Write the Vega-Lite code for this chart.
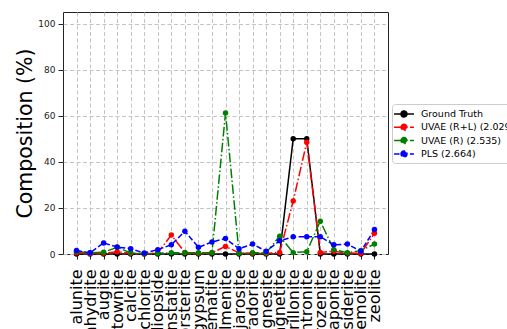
{
  "$schema": "https://vega.github.io/schema/vega-lite/v6.json",
  "width": 325,
  "height": 242,
  "autosize": {"type": "none"},
  "padding": {"left": 63, "top": 12, "right": 119, "bottom": 75},
  "background": "white",
  "config": {
    "font": "DejaVu Sans",
    "view": {"stroke": "#222222", "strokeWidth": 1},
    "axis": {
      "grid": true,
      "gridColor": "#c4c4c4",
      "gridDash": [4, 2.5],
      "gridWidth": 1,
      "domain": false,
      "tickColor": "#222222",
      "tickSize": 5,
      "labelColor": "#222222"
    }
  },
  "data": {
    "values": [
      {"mineral": "alunite", "method": "Ground Truth", "value": 0},
      {"mineral": "anhydrite", "method": "Ground Truth", "value": 0},
      {"mineral": "augite", "method": "Ground Truth", "value": 0},
      {"mineral": "bytownite", "method": "Ground Truth", "value": 0},
      {"mineral": "calcite", "method": "Ground Truth", "value": 0},
      {"mineral": "chlorite", "method": "Ground Truth", "value": 0},
      {"mineral": "diopside", "method": "Ground Truth", "value": 0},
      {"mineral": "enstatite", "method": "Ground Truth", "value": 0},
      {"mineral": "forsterite", "method": "Ground Truth", "value": 0},
      {"mineral": "gypsum", "method": "Ground Truth", "value": 0},
      {"mineral": "hematite", "method": "Ground Truth", "value": 0},
      {"mineral": "ilmenite", "method": "Ground Truth", "value": 0},
      {"mineral": "jarosite", "method": "Ground Truth", "value": 0},
      {"mineral": "labradorite", "method": "Ground Truth", "value": 0},
      {"mineral": "magnesite", "method": "Ground Truth", "value": 0},
      {"mineral": "magnetite", "method": "Ground Truth", "value": 0},
      {"mineral": "montmorillonite", "method": "Ground Truth", "value": 50},
      {"mineral": "nontronite", "method": "Ground Truth", "value": 50},
      {"mineral": "rozenite", "method": "Ground Truth", "value": 0},
      {"mineral": "saponite", "method": "Ground Truth", "value": 0},
      {"mineral": "siderite", "method": "Ground Truth", "value": 0},
      {"mineral": "tremolite", "method": "Ground Truth", "value": 0},
      {"mineral": "zeolite", "method": "Ground Truth", "value": 0},

      {"mineral": "alunite", "method": "UVAE (R+L) (2.029)", "value": 0.5},
      {"mineral": "anhydrite", "method": "UVAE (R+L) (2.029)", "value": 0.2},
      {"mineral": "augite", "method": "UVAE (R+L) (2.029)", "value": 0.3},
      {"mineral": "bytownite", "method": "UVAE (R+L) (2.029)", "value": 1.0},
      {"mineral": "calcite", "method": "UVAE (R+L) (2.029)", "value": 0.3},
      {"mineral": "chlorite", "method": "UVAE (R+L) (2.029)", "value": 0.1},
      {"mineral": "diopside", "method": "UVAE (R+L) (2.029)", "value": 0.5},
      {"mineral": "enstatite", "method": "UVAE (R+L) (2.029)", "value": 8.2},
      {"mineral": "forsterite", "method": "UVAE (R+L) (2.029)", "value": 0.7},
      {"mineral": "gypsum", "method": "UVAE (R+L) (2.029)", "value": 0.3},
      {"mineral": "hematite", "method": "UVAE (R+L) (2.029)", "value": 0.5},
      {"mineral": "ilmenite", "method": "UVAE (R+L) (2.029)", "value": 3.3},
      {"mineral": "jarosite", "method": "UVAE (R+L) (2.029)", "value": 0.5},
      {"mineral": "labradorite", "method": "UVAE (R+L) (2.029)", "value": 0.3},
      {"mineral": "magnesite", "method": "UVAE (R+L) (2.029)", "value": 0.3},
      {"mineral": "magnetite", "method": "UVAE (R+L) (2.029)", "value": 0.7},
      {"mineral": "montmorillonite", "method": "UVAE (R+L) (2.029)", "value": 23},
      {"mineral": "nontronite", "method": "UVAE (R+L) (2.029)", "value": 48.5},
      {"mineral": "rozenite", "method": "UVAE (R+L) (2.029)", "value": 0.7},
      {"mineral": "saponite", "method": "UVAE (R+L) (2.029)", "value": 1.2},
      {"mineral": "siderite", "method": "UVAE (R+L) (2.029)", "value": 0.4},
      {"mineral": "tremolite", "method": "UVAE (R+L) (2.029)", "value": 0.3},
      {"mineral": "zeolite", "method": "UVAE (R+L) (2.029)", "value": 9},

      {"mineral": "alunite", "method": "UVAE (R) (2.535)", "value": 1.1},
      {"mineral": "anhydrite", "method": "UVAE (R) (2.535)", "value": 0.5},
      {"mineral": "augite", "method": "UVAE (R) (2.535)", "value": 0.8},
      {"mineral": "bytownite", "method": "UVAE (R) (2.535)", "value": 2.9},
      {"mineral": "calcite", "method": "UVAE (R) (2.535)", "value": 0.5},
      {"mineral": "chlorite", "method": "UVAE (R) (2.535)", "value": 0.1},
      {"mineral": "diopside", "method": "UVAE (R) (2.535)", "value": 0.3},
      {"mineral": "enstatite", "method": "UVAE (R) (2.535)", "value": 0.5},
      {"mineral": "forsterite", "method": "UVAE (R) (2.535)", "value": 0.5},
      {"mineral": "gypsum", "method": "UVAE (R) (2.535)", "value": 0.5},
      {"mineral": "hematite", "method": "UVAE (R) (2.535)", "value": 0.5},
      {"mineral": "ilmenite", "method": "UVAE (R) (2.535)", "value": 61.2},
      {"mineral": "jarosite", "method": "UVAE (R) (2.535)", "value": 0.3},
      {"mineral": "labradorite", "method": "UVAE (R) (2.535)", "value": 0.5},
      {"mineral": "magnesite", "method": "UVAE (R) (2.535)", "value": 0.5},
      {"mineral": "magnetite", "method": "UVAE (R) (2.535)", "value": 7.7},
      {"mineral": "montmorillonite", "method": "UVAE (R) (2.535)", "value": 0.6},
      {"mineral": "nontronite", "method": "UVAE (R) (2.535)", "value": 1.0},
      {"mineral": "rozenite", "method": "UVAE (R) (2.535)", "value": 14.2},
      {"mineral": "saponite", "method": "UVAE (R) (2.535)", "value": 1.9},
      {"mineral": "siderite", "method": "UVAE (R) (2.535)", "value": 0.5},
      {"mineral": "tremolite", "method": "UVAE (R) (2.535)", "value": 1.5},
      {"mineral": "zeolite", "method": "UVAE (R) (2.535)", "value": 4.3},

      {"mineral": "alunite", "method": "PLS (2.664)", "value": 1.5},
      {"mineral": "anhydrite", "method": "PLS (2.664)", "value": 0.5},
      {"mineral": "augite", "method": "PLS (2.664)", "value": 4.8},
      {"mineral": "bytownite", "method": "PLS (2.664)", "value": 3.0},
      {"mineral": "calcite", "method": "PLS (2.664)", "value": 2.3},
      {"mineral": "chlorite", "method": "PLS (2.664)", "value": 0.4},
      {"mineral": "diopside", "method": "PLS (2.664)", "value": 1.9},
      {"mineral": "enstatite", "method": "PLS (2.664)", "value": 4.0},
      {"mineral": "forsterite", "method": "PLS (2.664)", "value": 9.9},
      {"mineral": "gypsum", "method": "PLS (2.664)", "value": 2.9},
      {"mineral": "hematite", "method": "PLS (2.664)", "value": 5.2},
      {"mineral": "ilmenite", "method": "PLS (2.664)", "value": 6.7},
      {"mineral": "jarosite", "method": "PLS (2.664)", "value": 2.3},
      {"mineral": "labradorite", "method": "PLS (2.664)", "value": 4.3},
      {"mineral": "magnesite", "method": "PLS (2.664)", "value": 1.2},
      {"mineral": "magnetite", "method": "PLS (2.664)", "value": 5.7},
      {"mineral": "montmorillonite", "method": "PLS (2.664)", "value": 7.5},
      {"mineral": "nontronite", "method": "PLS (2.664)", "value": 7.5},
      {"mineral": "rozenite", "method": "PLS (2.664)", "value": 7.5},
      {"mineral": "saponite", "method": "PLS (2.664)", "value": 4.0},
      {"mineral": "siderite", "method": "PLS (2.664)", "value": 4.3},
      {"mineral": "tremolite", "method": "PLS (2.664)", "value": 1.2},
      {"mineral": "zeolite", "method": "PLS (2.664)", "value": 10.6}
    ]
  },
  "encoding": {
    "x": {
      "field": "mineral",
      "type": "nominal",
      "sort": null,
      "scale": {"type": "point", "padding": 1.07},
      "axis": {
        "title": null,
        "labelAngle": -90,
        "labelFontSize": 16,
        "labelColor": "black",
        "labelPadding": 10,
        "labelBaseline": "middle",
        "labelAlign": "right"
      }
    },
    "y": {
      "field": "value",
      "type": "quantitative",
      "scale": {"domain": [0, 105], "nice": false, "zero": true},
      "axis": {
        "values": [0, 20, 40, 60, 80, 100],
        "title": "Composition (%)",
        "titleFontSize": 20.5,
        "titleFontWeight": "normal",
        "titleColor": "black",
        "titlePadding": 2,
        "labelFontSize": 9,
        "labelPadding": 3
      }
    },
    "color": {
      "field": "method",
      "type": "nominal",
      "sort": null,
      "scale": {
        "domain": ["Ground Truth", "UVAE (R+L) (2.029)", "UVAE (R) (2.535)", "PLS (2.664)"],
        "range": ["#000000", "#ff0000", "#008000", "#0000ff"]
      },
      "legend": {
        "orient": "none",
        "legendX": 329,
        "legendY": 92,
        "title": null,
        "symbolType": "M-1.63,0H1.63M-0.49,0A0.49,0.49,0,1,1,0.49,0A0.49,0.49,0,1,1,-0.49,0Z",
        "symbolSize": 149,
        "symbolStrokeWidth": 1.5,
        "symbolOffset": 2,
        "labelOffset": 10,
        "labelFontSize": 9.5,
        "labelColor": "black",
        "fillColor": "white",
        "strokeColor": "#cccccc",
        "cornerRadius": 3,
        "padding": 3,
        "rowPadding": 0.3,
        "encode": {
          "symbols": {"update": {"fill": {"scale": "color", "field": "value"}}}
        }
      }
    },
    "strokeDash": {
      "field": "method",
      "type": "nominal",
      "sort": null,
      "scale": {
        "domain": ["Ground Truth", "UVAE (R+L) (2.029)", "UVAE (R) (2.535)", "PLS (2.664)"],
        "range": [[1, 0], [9.6, 2.4, 1.5, 2.4], [9.6, 2.4, 1.5, 2.4], [5.5, 2.4]]
      },
      "legend": null
    }
  },
  "layer": [
    {"mark": {"type": "line", "strokeWidth": 1.5}},
    {"mark": {"type": "point", "filled": true, "size": 30, "opacity": 1}, "encoding": {"strokeDash": {"value": [1, 0]}}}
  ]
}
